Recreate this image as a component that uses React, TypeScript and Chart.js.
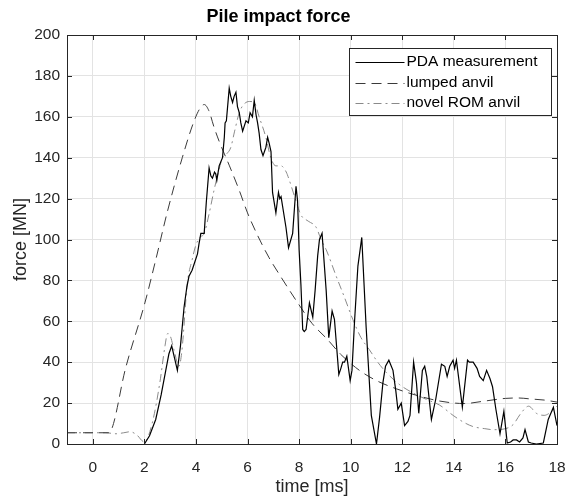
import React, { useEffect, useRef } from "react";
import { Chart, registerables } from "chart.js";

Chart.register(...registerables);

// ---------- data ----------
const pdaTime = [
  2.0, 2.2, 2.44, 2.65, 2.83, 2.95, 3.06, 3.17, 3.28, 3.4, 3.54, 3.65, 3.73, 3.85, 3.93, 4.06, 4.12, 4.19, 4.32,
  4.4, 4.51, 4.58, 4.64, 4.72, 4.77, 4.81, 4.9, 5.03, 5.1, 5.13, 5.18, 5.29, 5.35, 5.42, 5.48, 5.55, 5.61, 5.68,
  5.74, 5.81, 5.94, 6.03, 6.1, 6.19, 6.26, 6.33, 6.39, 6.45, 6.52, 6.6, 6.71, 6.78, 6.84, 6.91, 6.97, 7.1, 7.2,
  7.25, 7.3, 7.49, 7.59, 7.75, 7.88, 7.94, 8.0, 8.07, 8.14, 8.2, 8.27, 8.4, 8.53, 8.62, 8.72, 8.79, 8.89, 9.05,
  9.15, 9.28, 9.37, 9.54, 9.62, 9.69, 9.76, 9.85, 9.98, 10.05, 10.15, 10.28, 10.43, 10.6, 10.8, 11.0, 11.12,
  11.25, 11.35, 11.48, 11.64, 11.75, 11.83, 11.96, 12.09, 12.22, 12.3, 12.44, 12.55, 12.64, 12.78, 12.87, 12.95,
  13.13, 13.3, 13.52, 13.65, 13.74, 13.84, 13.97, 14.03, 14.1, 14.33, 14.53, 14.6, 14.75, 14.9, 15.0, 15.14,
  15.27, 15.4, 15.5, 15.63, 15.79, 15.94, 16.07, 16.2, 16.3, 16.43, 16.55, 16.68, 16.76, 16.89, 17.0, 17.2,
  17.47, 17.66, 17.86, 18.0,
];
const pdaForce = [
  0, 4, 12, 24, 36, 44, 48, 42, 36, 48, 67, 77, 82, 85, 88, 93, 98, 103, 103,
  118, 135, 131, 130, 133, 132, 129, 136, 140, 150, 157, 158, 174, 170, 167, 170, 172, 165, 162,
  157, 153, 158, 157, 162, 160, 168, 161, 157, 152, 144, 141, 145, 150, 147, 143, 123, 113, 123,
  120, 121, 106, 96, 103, 126, 119, 95, 78, 56, 55, 56, 69, 62, 75, 92, 100, 103, 75,
  52, 65, 61, 34, 37, 40, 40, 43, 31, 36, 60, 87, 101, 57, 14, 0, 13,
  30, 38, 41, 36, 26, 17, 20, 9, 11, 14, 40, 30, 15, 36, 38, 33,
  12, 22, 39, 38, 33, 38, 41, 37, 41, 18, 41, 40, 40, 37, 33, 31,
  36, 32, 28, 17, 5, 16, 0.5, 1, 2, 2, 1, 3, 7, 1, 0.5, 0,
  0.5, 12, 18, 9,
];

const lumpedTime = [
  -1, 0.6, 0.68, 1.27, 2.02, 2.44, 2.9, 3.47, 3.9, 4.15, 4.32, 4.5, 4.7, 4.9, 5.3, 5.68, 6.0, 6.39, 6.84,
  7.23, 8.0, 8.5, 9.11, 9.6, 10.34, 11.0, 11.77, 12.5, 13.45, 14.4, 15.2, 16.0, 16.5, 17.0, 17.5, 18.0,
];
const lumpedForce = [
  5.5, 5.5, 6, 37, 69, 90, 114, 140, 157, 164, 166, 163, 155, 148, 136, 124, 113, 102, 91,
  83, 68, 59, 51, 44, 36, 31, 27, 24, 21, 19.8, 21, 22.3, 22.5, 22, 21.5, 20.5,
];

const romTime = [
  -1, 0.5, 0.9, 1.2, 1.45, 1.7, 2.0, 2.3, 2.6, 2.8, 2.9, 3.0, 3.15, 3.34, 3.45, 3.67, 3.85, 3.99, 4.15,
  4.32, 4.5, 4.7, 4.87, 5.03, 5.2, 5.35, 5.5, 5.68, 5.85, 6.07, 6.26, 6.45, 6.71, 6.9, 7.1, 7.3, 7.5,
  7.62, 7.85, 8.07, 8.35, 8.66, 8.85, 9.05, 9.44, 9.75, 10.08, 10.4, 10.73, 11.05, 11.38, 11.9, 12.41,
  12.9, 13.45, 13.97, 14.4, 14.75, 15.2, 15.53, 16.0, 16.3, 16.6, 16.9, 17.2, 17.5, 17.8, 18.0,
];
const romForce = [
  5.5, 5.5, 5, 5.5, 6, 4.5, 1, 10, 30, 48, 54, 53, 46, 38, 45, 79, 90, 97, 101,
  103, 112, 124, 133, 140, 142, 145, 153, 162, 166, 167.5, 167, 160, 150, 140, 136, 136, 133,
  129, 120, 112, 109, 106, 100, 95, 82, 72, 61, 52, 46, 40, 35, 29, 25,
  22, 19, 14, 10.5, 8.5, 7.5, 7, 7.5, 9.5, 15, 18.5, 15, 14, 16, 18.5,
];

const seriesLabels = ["PDA measurement", "lumped anvil", "novel ROM anvil"];
const xTicks = [0, 2, 4, 6, 8, 10, 12, 14, 16, 18];
const yTicks = [0, 20, 40, 60, 80, 100, 120, 140, 160, 180, 200];

const FONT = "Arial, 'Liberation Sans', Helvetica, sans-serif";
const AXIS_COLOR = "#262626";

const toPoints = (t: number[], f: number[]) => t.map((x, i) => ({ x, y: f[i] }));

const frameAndLegend = {
  id: "frameAndLegend",
  afterDraw(chart: any) {
    const { ctx, chartArea } = chart;
    const { left, right, top, bottom } = chartArea;
    const xs = chart.scales.x;
    const ys = chart.scales.y;
    ctx.save();
    ctx.strokeStyle = AXIS_COLOR;
    ctx.lineWidth = 1;
    ctx.setLineDash([]);
    ctx.strokeRect(Math.round(left) + 0.5, Math.round(top) + 0.5, Math.round(right - left), Math.round(bottom - top));
    const tl = 5;
    ctx.beginPath();
    xTicks.forEach((v) => {
      const px = Math.round(xs.getPixelForValue(v)) + 0.5;
      ctx.moveTo(px, bottom);
      ctx.lineTo(px, bottom - tl);
      ctx.moveTo(px, top);
      ctx.lineTo(px, top + tl);
    });
    yTicks.forEach((v) => {
      const py = Math.round(ys.getPixelForValue(v)) + 0.5;
      ctx.moveTo(left, py);
      ctx.lineTo(left + tl, py);
      ctx.moveTo(right, py);
      ctx.lineTo(right - tl, py);
    });
    ctx.stroke();

    // legend
    ctx.font = `15.5px ${FONT}`;
    const ds = chart.data.datasets;
    const maxW = Math.max(...ds.map((d: any) => ctx.measureText(d.label).width));
    const lineLen = 49;
    const padL = 6;
    const gap = 2;
    const padR = 14;
    const rowH = 20.5;
    const boxW = Math.round(padL + lineLen + gap + maxW + padR);
    const boxH = 67;
    const bx = Math.round(right - 6 - boxW) + 0.5;
    const by = Math.round(top + 13) + 0.5;
    ctx.fillStyle = "#ffffff";
    ctx.fillRect(bx, by, boxW, boxH);
    ctx.strokeStyle = AXIS_COLOR;
    ctx.lineWidth = 1;
    ctx.strokeRect(bx, by, boxW, boxH);
    ds.forEach((d: any, i: number) => {
      const cy = by + 13.5 + i * rowH;
      ctx.beginPath();
      ctx.strokeStyle = d.borderColor;
      ctx.lineWidth = d.borderWidth;
      ctx.setLineDash(d.borderDash || []);
      ctx.moveTo(bx + padL, Math.round(cy) + 0.5);
      ctx.lineTo(bx + padL + lineLen, Math.round(cy) + 0.5);
      ctx.stroke();
      ctx.setLineDash([]);
      ctx.fillStyle = "#000000";
      ctx.textBaseline = "middle";
      ctx.textAlign = "left";
      ctx.fillText(d.label, bx + padL + lineLen + gap, cy);
    });
    ctx.restore();
  },
};

export default function App() {
  const ref = useRef<HTMLCanvasElement | null>(null);
  useEffect(() => {
    if (!ref.current) return;
    const chart = new Chart(ref.current, {
      type: "line",
      data: {
        datasets: [
          {
            label: seriesLabels[0],
            data: toPoints(pdaTime, pdaForce),
            borderColor: "#000000",
            borderWidth: 1.2,
            pointRadius: 0,
            tension: 0,
            fill: false,
          },
          {
            label: seriesLabels[1],
            data: toPoints(lumpedTime, lumpedForce),
            borderColor: "#3a3a3a",
            borderWidth: 1,
            borderDash: [10, 6],
            pointRadius: 0,
            cubicInterpolationMode: "monotone",
            fill: false,
          },
          {
            label: seriesLabels[2],
            data: toPoints(romTime, romForce),
            borderColor: "#8a8a8a",
            borderWidth: 1,
            borderDash: [8, 4, 2, 4],
            pointRadius: 0,
            cubicInterpolationMode: "monotone",
            fill: false,
          },
        ],
      },
      options: {
        responsive: false,
        animation: false,
        layout: { padding: { left: 0, right: 9, top: 0, bottom: 0 } },
        plugins: {
          legend: { display: false },
          tooltip: { enabled: false },
          title: {
            display: true,
            text: "Pile impact force",
            color: "#000000",
            font: { family: FONT, size: 18, weight: "bold" },
            padding: { top: 6, bottom: 7.4 },
          },
        },
        scales: {
          x: {
            type: "linear",
            min: -1,
            max: 18,
            afterBuildTicks: (axis: any) => {
              axis.ticks = xTicks.map((value) => ({ value }));
            },
            afterFit: (axis: any) => {
              axis.height = 54;
              axis.paddingLeft = 0;
              axis.paddingRight = 0;
            },
            grid: { color: "#e3e3e3", lineWidth: 1, drawTicks: false },
            border: { display: false },
            ticks: {
              color: AXIS_COLOR,
              font: { family: FONT, size: 15.5 },
              padding: 14,
              maxRotation: 0,
              autoSkip: false,
            },
            title: {
              display: true,
              text: "time [ms]",
              color: AXIS_COLOR,
              font: { family: FONT, size: 18 },
              padding: { top: 0, bottom: 0 },
            },
          },
          y: {
            type: "linear",
            min: 0,
            max: 200,
            afterBuildTicks: (axis: any) => {
              axis.ticks = yTicks.map((value) => ({ value }));
            },
            afterFit: (axis: any) => {
              axis.width = 67;
              axis.paddingTop = 0;
              axis.paddingBottom = 0;
            },
            grid: { color: "#e3e3e3", lineWidth: 1, drawTicks: false },
            border: { display: false },
            ticks: {
              color: AXIS_COLOR,
              font: { family: FONT, size: 15.5 },
              padding: 7,
              autoSkip: false,
            },
            title: {
              display: true,
              text: "force [MN]",
              color: AXIS_COLOR,
              font: { family: FONT, size: 18 },
              padding: { top: 10, bottom: 0 },
            },
          },
        },
      },
      plugins: [frameAndLegend],
    });
    return () => chart.destroy();
  }, []);
  return (
    <div style={{ position: "absolute", left: 0, top: 0, width: 566, height: 498, background: "#fff" }}>
      <canvas ref={ref} width={566} height={498} />
    </div>
  );
}
